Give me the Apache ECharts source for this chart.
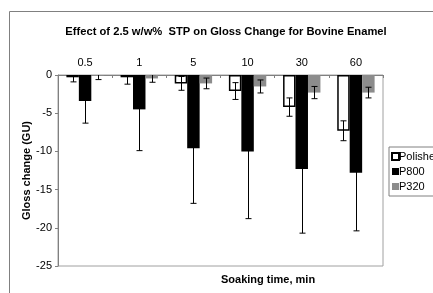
<!DOCTYPE html>
<html>
<head>
<meta charset="utf-8">
<script src="https://cdn.jsdelivr.net/npm/echarts@6/dist/echarts.min.js"></script>
<style>html,body{margin:0;padding:0;background:#fff;}#c{width:433px;height:293px;}</style>
</head>
<body>
<div id="c"></div>
<script>
var categories = ['0.5', '1', '5', '10', '30', '60'];
var polished = [-0.3, -0.3, -1.1, -2.1, -4.2, -7.3];
var polishedErr = [0.6, 0.9, 0.9, 1.1, 1.2, 1.3];
var p800 = [-3.4, -4.5, -9.6, -10.0, -12.3, -12.8];
var p800Err = [2.9, 5.4, 7.2, 8.8, 8.4, 7.6];
var p320 = [-0.1, -0.45, -1.1, -1.5, -2.3, -2.3];
var p320Err = [0.5, 0.5, 0.7, 0.85, 0.8, 0.7];
var yTicks = [0, -5, -10, -15, -20, -25];

var GAP = 0.31;
function errData(vals, errs) {
  return vals.map(function (v, i) { return [i, v, errs[i]]; });
}
function errSeries(vals, errs, idx) {
  return {
    type: 'custom',
    z: 10,
    silent: true,
    clip: true,
    data: errData(vals, errs),
    encode: { x: 0, y: 1 },
    renderItem: function (params, api) {
      var c = api.value(0), v = api.value(1), e = api.value(2);
      var band = api.size([1, 0])[0];
      var bw = band * (1 - GAP) / 3;
      var off = (idx - 1) * bw;
      var top = api.coord([c, v + e]);
      var bot = api.coord([c, v - e]);
      var x = Math.round(top[0] + off) + 0.5;
      var cap = 3;
      var st = { stroke: '#000', lineWidth: 1 };
      return {
        type: 'group',
        children: [
          { type: 'line', shape: { x1: x, y1: top[1], x2: x, y2: bot[1] }, style: st },
          { type: 'line', shape: { x1: x - cap, y1: top[1], x2: x + cap, y2: top[1] }, style: st },
          { type: 'line', shape: { x1: x - cap, y1: bot[1], x2: x + cap, y2: bot[1] }, style: st }
        ]
      };
    }
  };
}

var chart = echarts.init(document.getElementById('c'), null, { renderer: 'canvas' });
var font = 'Liberation Sans, Arial, sans-serif';
chart.setOption({
  animation: false,
  textStyle: { fontFamily: font },
  title: {
    text: 'Effect of 2.5 w/w%  STP on Gloss Change for Bovine Enamel',
    left: 221, textAlign: 'center', top: 21,
    textStyle: { fontSize: 11.2, fontWeight: 'bold', color: '#000', fontFamily: font }
  },
  graphic: [
    { type: 'rect', shape: { x: 9.5, y: 11.5, width: 600, height: 400 }, style: { fill: 'none', stroke: '#808080', lineWidth: 1 }, silent: true },
    { type: 'text', left: 221, top: 274, style: { text: 'Soaking time, min', font: 'bold 11px Liberation Sans, Arial, sans-serif', fill: '#000', textAlign: 'center' } }
  ],
  legend: {
    orient: 'vertical',
    left: 389, top: 147,
    itemWidth: 7, itemHeight: 7, itemGap: 4,
    padding: [4, 20, 4, 2],
    borderColor: '#808080', borderWidth: 1,
    textStyle: { fontSize: 11, color: '#000', fontFamily: font, padding: [0, 0, 0, -5] },
    data: [
      { name: 'Polished', icon: 'rect', itemStyle: { color: '#fff', borderColor: '#000', borderWidth: 2 } },
      { name: 'P800', icon: 'rect' },
      { name: 'P320', icon: 'rect' }
    ]
  },
  grid: { left: 58, top: 75, width: 325, height: 191, show: true, borderColor: '#a0a0a0', borderWidth: 1 },
  xAxis: {
    type: 'category', position: 'top', data: categories,
    axisLine: { lineStyle: { color: '#808080' } },
    axisTick: { show: true, inside: true, length: 3, lineStyle: { color: '#808080' } },
    axisLabel: { fontSize: 11, color: '#000', margin: 7 }
  },
  yAxis: {
    type: 'value', min: -25, max: 0, interval: 5,
    name: 'Gloss change (GU)', nameLocation: 'middle', nameGap: 26, nameMoveOverlap: false,
    nameTextStyle: { fontSize: 11, fontWeight: 'bold', color: '#000' },
    splitLine: { show: false },
    axisLine: { show: true, lineStyle: { color: '#808080' } },
    axisTick: { show: true, length: 3, lineStyle: { color: '#808080' } },
    axisLabel: { fontSize: 11, color: '#000', margin: 6,
      formatter: function (v) { return yTicks.indexOf(v) >= 0 ? String(v) : ''; } }
  },
  series: [
    { name: 'Polished', type: 'bar', data: polished, barGap: '0%', barCategoryGap: (GAP * 100) + '%',
      itemStyle: { color: '#fff', borderColor: '#000', borderWidth: 1.5 } },
    { name: 'P800', type: 'bar', data: p800, itemStyle: { color: '#000' } },
    { name: 'P320', type: 'bar', data: p320, itemStyle: { color: '#8c8c8c' } },
    errSeries(polished, polishedErr, 0),
    errSeries(p800, p800Err, 1),
    errSeries(p320, p320Err, 2)
  ]
});
</script>
</body>
</html>
